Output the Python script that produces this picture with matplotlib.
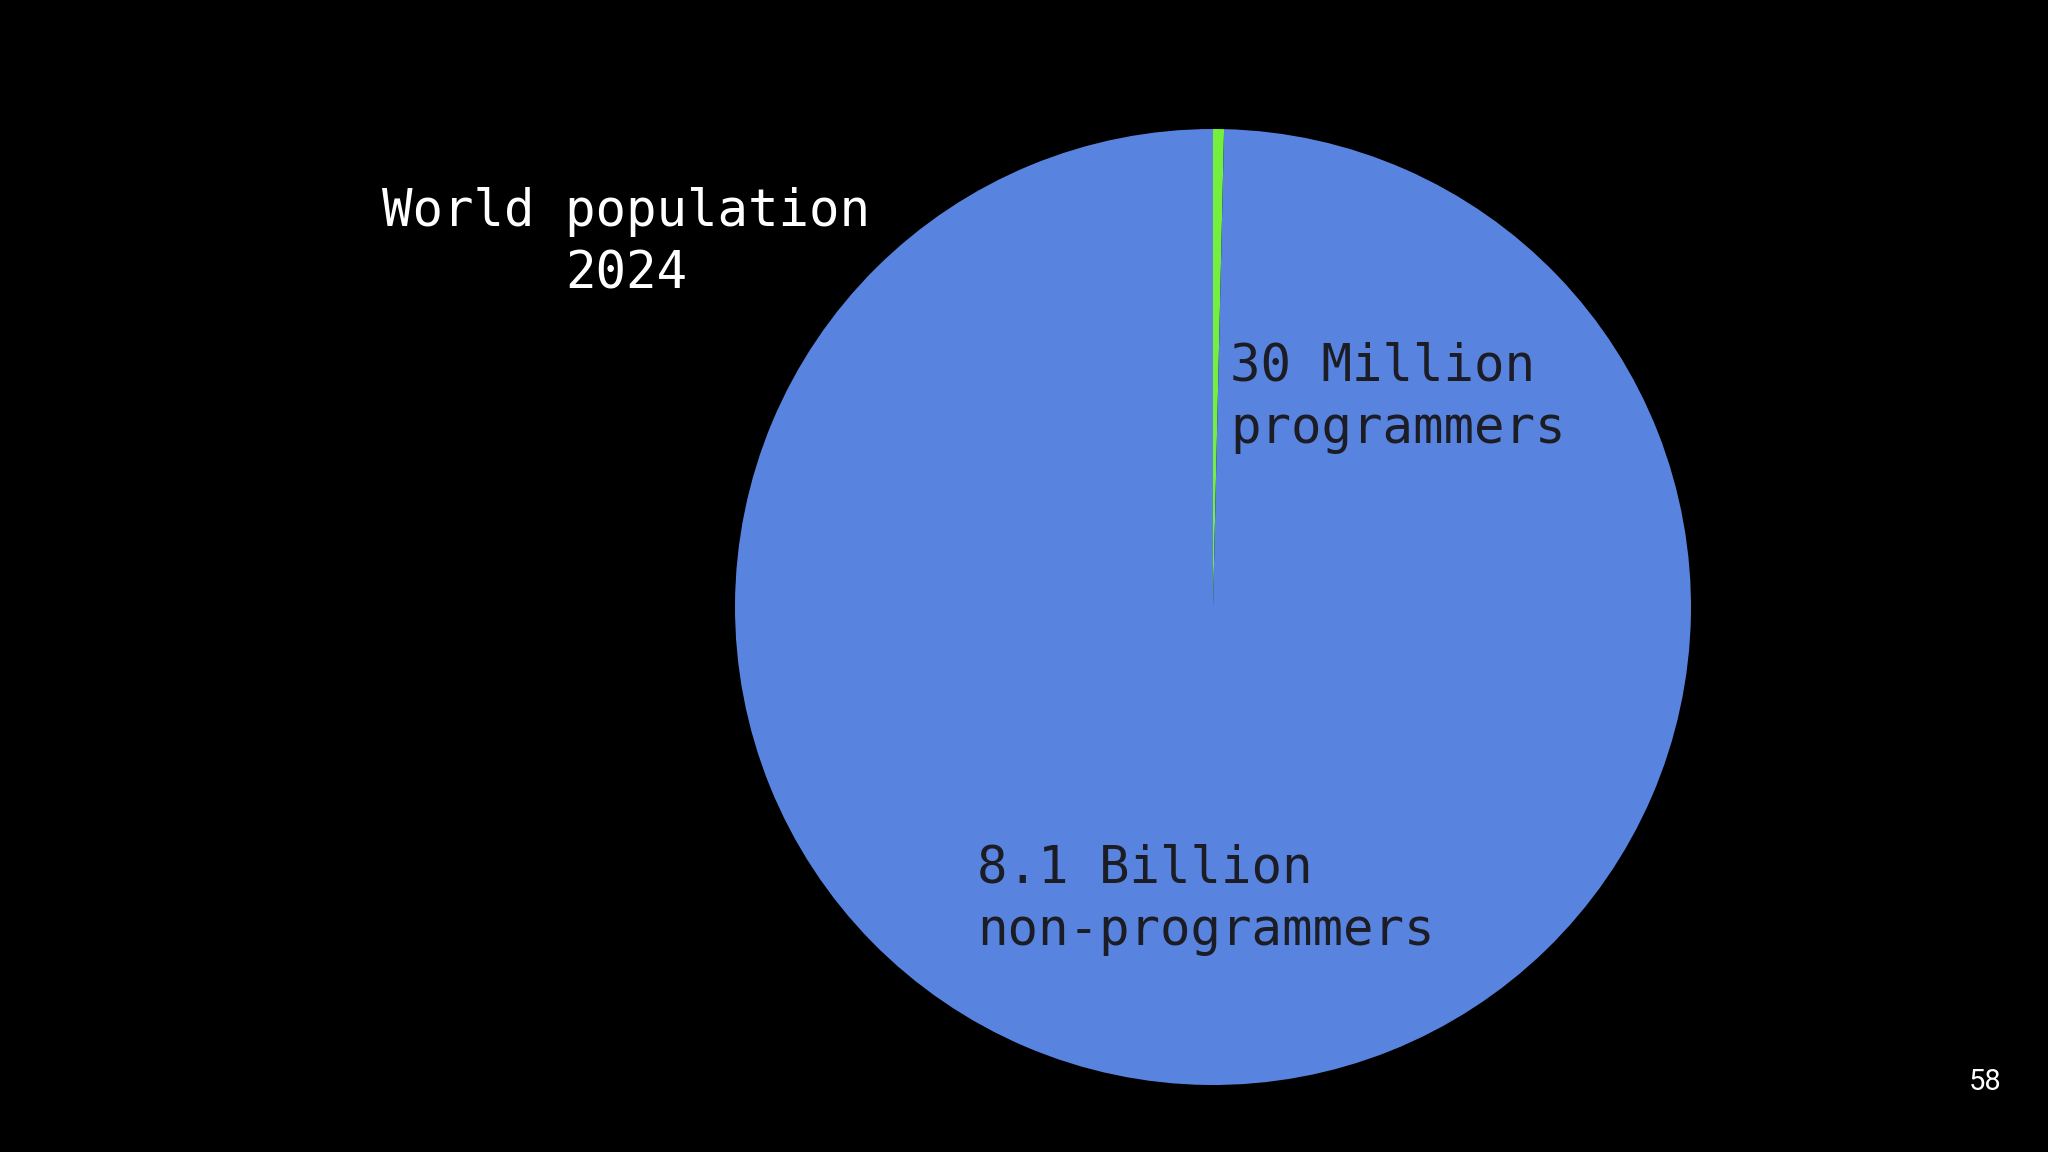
import matplotlib
matplotlib.use("Agg")
import matplotlib.pyplot as plt

# world population 2024
groups = ["programmers", "non-programmers"]
people = [30e6, 8.1e9]
colours = ["#74f03c", "#5884e0"]

W, H = 2048, 1152
fig = plt.figure(figsize=(W / 100, H / 100), dpi=100, facecolor="black")

# pie circle: centre (1213, 607) px from top-left, radius 478 px
cx, cy, r = 1213, 607, 478
ax = fig.add_axes([(cx - r) / W, (H - cy - r) / H, 2 * r / W, 2 * r / H])
ax.set_facecolor("black")
ax.pie(people, colors=colours, startangle=90, counterclock=False,
       wedgeprops=dict(linewidth=0))
ax.set_xlim(-1, 1)
ax.set_ylim(-1, 1)
ax.axis("off")

mono = "DejaVu Sans Mono"
fs = 36.5
ls = 1.32

fig.text(626 / W, 1 - 243 / H, "World population\n2024", color="white",
         family=mono, fontsize=fs, ha="center", va="center", linespacing=ls)
fig.text(1230 / W, 1 - 398 / H, "30 Million\nprogrammers", color="#1c1c24",
         family=mono, fontsize=fs, ha="left", va="center", linespacing=ls)
fig.text(977 / W, 1 - 900 / H, "8.1 Billion\nnon-programmers", color="#1c1c24",
         family=mono, fontsize=fs, ha="left", va="center", linespacing=ls)

fig.text(1985 / W, 1 - 1082 / H, "58", color="white", family="Roboto",
         fontsize=21, ha="center", va="center")

fig.savefig("out.png", dpi=100, facecolor="black")
